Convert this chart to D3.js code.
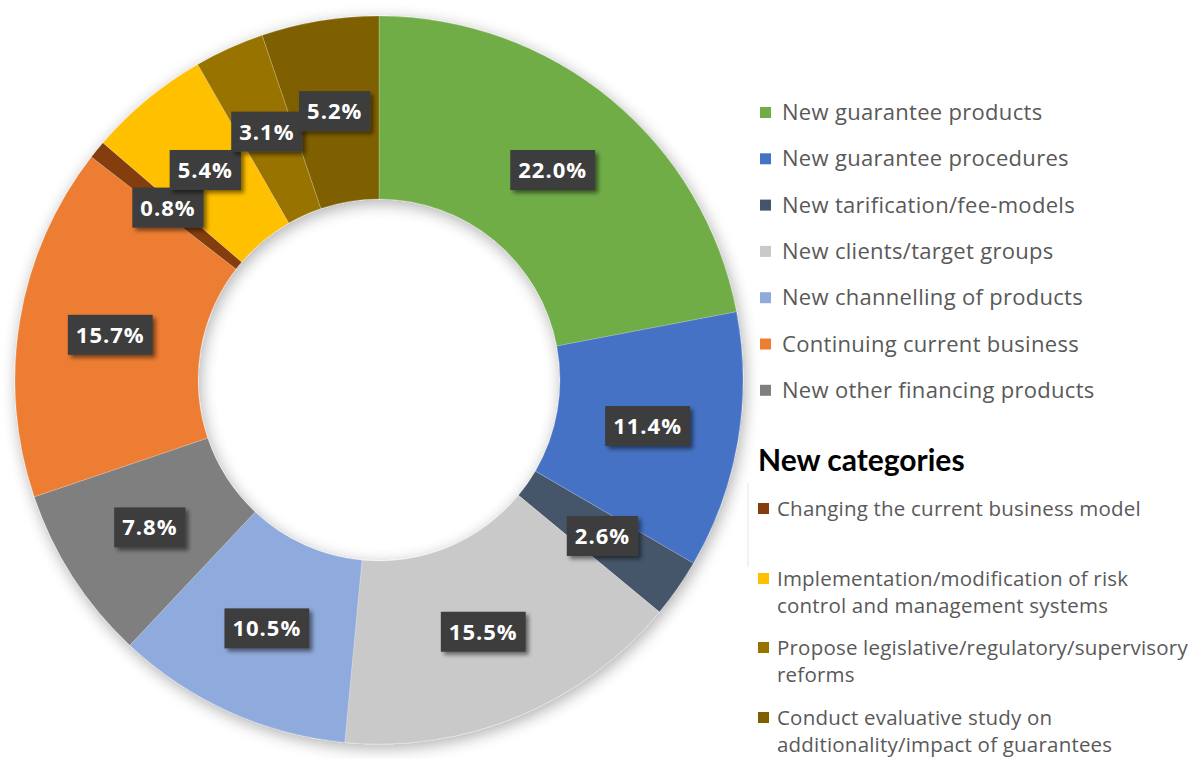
<!DOCTYPE html>
<html>
<head>
<meta charset="utf-8">
<script src="https://cdn.jsdelivr.net/npm/d3@7"></script>
<style>
  html, body { margin: 0; padding: 0; background: #ffffff; }
  svg { display: block; }
</style>
</head>
<body>
<svg id="chart" width="1196" height="759"></svg>
<script>
// Segments in clockwise order starting at 12 o'clock
const categories = [
  "New guarantee products",
  "New guarantee procedures",
  "New tarification/fee-models",
  "New clients/target groups",
  "New channelling of products",
  "New other financing products",
  "Continuing current business",
  "Changing the current business model",
  "Implementation/modification of risk control and management systems",
  "Propose legislative/regulatory/supervisory reforms",
  "Conduct evaluative study on additionality/impact of guarantees"
];
const shares = [22.0, 11.4, 2.6, 15.5, 10.5, 7.8, 15.7, 0.8, 5.4, 3.1, 5.2];
const colors = ["#70AD47", "#4472C4", "#44546A", "#C9C9C9", "#8FAADC", "#7F7F7F",
                "#ED7D31", "#843C0C", "#FFC000", "#997300", "#7F6000"];

// Legend entries (first block, then the "New categories" block with wrapped lines)
const legendMain = [
  { name: "New guarantee products", lines: ["New guarantee products"] },
  { name: "New guarantee procedures", lines: ["New guarantee procedures"] },
  { name: "New tarification/fee-models", lines: ["New tarification/fee-models"] },
  { name: "New clients/target groups", lines: ["New clients/target groups"] },
  { name: "New channelling of products", lines: ["New channelling of products"] },
  { name: "Continuing current business", lines: ["Continuing current business"] },
  { name: "New other financing products", lines: ["New other financing products"] }
];
const legendNewTitle = "New categories";
const legendNew = [
  { name: "Changing the current business model", lines: ["Changing the current business model"] },
  { name: "Implementation/modification of risk control and management systems",
    lines: ["Implementation/modification of risk", "control and management systems"] },
  { name: "Propose legislative/regulatory/supervisory reforms",
    lines: ["Propose legislative/regulatory/supervisory", "reforms"] },
  { name: "Conduct evaluative study on additionality/impact of guarantees",
    lines: ["Conduct evaluative study on", "additionality/impact of guarantees"] }
];

const svg = d3.select("#chart");
const color = d3.scaleOrdinal().domain(categories).range(colors);

// Filters: soft shadow for the ring and for the value boxes
const defs = svg.append("defs");
const ringShadow = defs.append("filter").attr("id", "ringShadow")
  .attr("x", "-20%").attr("y", "-20%").attr("width", "140%").attr("height", "140%");
ringShadow.append("feGaussianBlur").attr("in", "SourceAlpha").attr("stdDeviation", 8).attr("result", "b");
ringShadow.append("feOffset").attr("in", "b").attr("dx", 2).attr("dy", 4).attr("result", "o");
ringShadow.append("feComponentTransfer").attr("in", "o").attr("result", "s")
  .append("feFuncA").attr("type", "linear").attr("slope", 0.32);
const m1 = ringShadow.append("feMerge");
m1.append("feMergeNode").attr("in", "s");
m1.append("feMergeNode").attr("in", "SourceGraphic");

const boxShadow = defs.append("filter").attr("id", "boxShadow")
  .attr("x", "-30%").attr("y", "-40%").attr("width", "160%").attr("height", "180%");
boxShadow.append("feGaussianBlur").attr("in", "SourceAlpha").attr("stdDeviation", 2).attr("result", "b");
boxShadow.append("feOffset").attr("in", "b").attr("dx", 3).attr("dy", 3).attr("result", "o");
boxShadow.append("feComponentTransfer").attr("in", "o").attr("result", "s")
  .append("feFuncA").attr("type", "linear").attr("slope", 0.5);
const m2 = boxShadow.append("feMerge");
m2.append("feMergeNode").attr("in", "s");
m2.append("feMergeNode").attr("in", "SourceGraphic");

// Donut geometry
const cx = 379, cy = 380;
const outerR = 364, innerR = 181;

const data = categories.map((c, i) => ({ category: c, value: shares[i] }));
const pie = d3.pie().value(d => d.value).sort(null);
const arcs = pie(data);
const arc = d3.arc().innerRadius(innerR).outerRadius(outerR);
const labelArc = d3.arc().innerRadius((innerR + outerR) / 2).outerRadius((innerR + outerR) / 2);

const g = svg.append("g").attr("transform", `translate(${cx},${cy})`);

g.append("g").attr("filter", "url(#ringShadow)")
  .selectAll("path")
  .data(arcs)
  .enter().append("path")
  .attr("d", arc)
  .attr("fill", d => color(d.data.category))
  .attr("stroke", "rgba(255,255,255,0.2)")
  .attr("stroke-width", 1);

// Value labels: white text on a dark box at the centre of each segment
const labels = g.append("g").selectAll("g.lbl")
  .data(arcs)
  .enter().append("g")
  .attr("class", "lbl")
  .attr("transform", d => { const p = labelArc.centroid(d); return `translate(${p[0]},${p[1]})`; });

labels.append("rect").attr("class", "box")
  .attr("fill", "#3d3d3d")
  .attr("filter", "url(#boxShadow)");

labels.append("text")
  .text(d => d.data.value.toFixed(1) + "%")
  .attr("text-anchor", "middle")
  .attr("dy", "0.36em")
  .attr("fill", "#ffffff")
  .style("font-family", "'Open Sans', 'DejaVu Sans', sans-serif")
  .style("font-weight", 700)
  .style("font-size", "22px")
  .style("letter-spacing", "1px");

labels.each(function() {
  const t = d3.select(this).select("text").node();
  const w = t.getComputedTextLength();
  d3.select(this).select("rect")
    .attr("x", -w / 2 - 8)
    .attr("y", -20)
    .attr("width", w + 16)
    .attr("height", 40);
});

// Legend
const legend = svg.append("g");
const legendFont = "'Open Sans', 'Liberation Sans', sans-serif";

const mainBaselines = legendMain.map((d, i) => 120 + i * 46.3);
const mainRows = legend.selectAll("g.main")
  .data(legendMain)
  .enter().append("g")
  .attr("class", "main")
  .attr("transform", (d, i) => `translate(760,${mainBaselines[i]})`);
mainRows.append("rect")
  .attr("x", 0).attr("y", -13).attr("width", 11).attr("height", 11)
  .attr("fill", d => color(d.name));
mainRows.append("text")
  .attr("x", 22).attr("y", 0)
  .text(d => d.lines[0])
  .attr("fill", "#595959")
  .style("font-family", legendFont)
  .style("font-size", "22px")
  .style("letter-spacing", "0.3px");

legend.append("text")
  .attr("x", 758).attr("y", 471)
  .text(legendNewTitle)
  .attr("fill", "#000000")
  .style("font-family", "Lato, 'Open Sans', sans-serif")
  .style("font-weight", 700)
  .style("font-size", "30px");

// faint edge of the legend frame
legend.append("line")
  .attr("x1", 748).attr("x2", 748).attr("y1", 483).attr("y2", 567)
  .attr("stroke", "#e6e6e6").attr("stroke-width", 1);

const newBaselines = [516, 586, 655, 725];
const newRows = legend.selectAll("g.newcat")
  .data(legendNew)
  .enter().append("g")
  .attr("class", "newcat")
  .attr("transform", (d, i) => `translate(758,${newBaselines[i]})`);
newRows.append("rect")
  .attr("x", 0).attr("y", -13).attr("width", 11).attr("height", 11)
  .attr("fill", d => color(d.name));
newRows.each(function(d) {
  const t = d3.select(this).append("text")
    .attr("fill", "#595959")
    .style("font-family", legendFont)
    .style("font-size", "20.5px")
    .style("letter-spacing", "0.2px");
  d.lines.forEach((line, j) => {
    t.append("tspan").attr("x", 19).attr("y", j * 27).text(line);
  });
});
</script>
</body>
</html>
